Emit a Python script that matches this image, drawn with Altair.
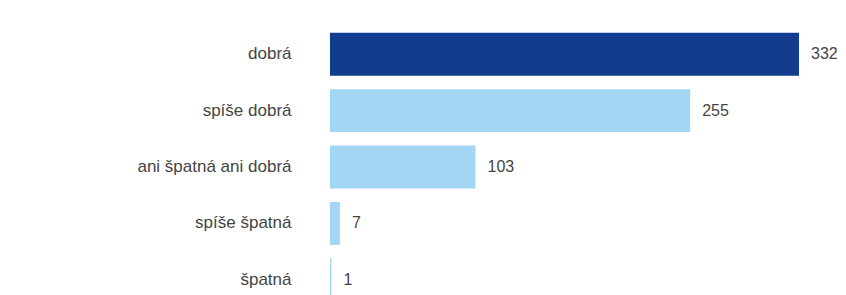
import altair as alt
import pandas as pd

categories = ["dobrá", "spíše dobrá", "ani špatná ani dobrá", "spíše špatná", "špatná"]
values = [332, 255, 103, 7, 1]
highlight = [True, False, False, False, False]

df = pd.DataFrame({"cat": categories, "val": values, "hl": highlight})

y_enc = alt.Y("cat:N", sort=categories, title=None,
              scale=alt.Scale(paddingInner=0.24, paddingOuter=0.12),
              axis=alt.Axis(ticks=False, domain=False, labelPadding=39,
                            labelFontSize=17, labelColor="#444444",
                            labelFont="Liberation Sans", labelFontWeight="normal"))
x_enc = alt.X("val:Q", title=None, axis=None, scale=alt.Scale(domain=[0, 332], nice=False, zero=True))

bars = alt.Chart(df).mark_bar().encode(
    x=x_enc, y=y_enc,
    color=alt.Color("hl:N", scale=alt.Scale(domain=[True, False], range=["#123d8e", "#a3d6f4"]), legend=None),
)

labels = alt.Chart(df).mark_text(align="left", baseline="middle", dx=12, fontSize=16,
                                 font="Liberation Sans", color="#444444").encode(
    x=x_enc, y=y_enc, text="val:Q")

chart = (bars + labels).properties(
    width=469, height=282,
    background="white",
    autosize=alt.AutoSizeParams(type="none"),
    padding={"left": 322, "top": 18, "right": 39, "bottom": 0},
).configure_view(strokeWidth=0, stroke=None)

chart.save("out.html", embed_options={"renderer": "svg", "actions": False})
